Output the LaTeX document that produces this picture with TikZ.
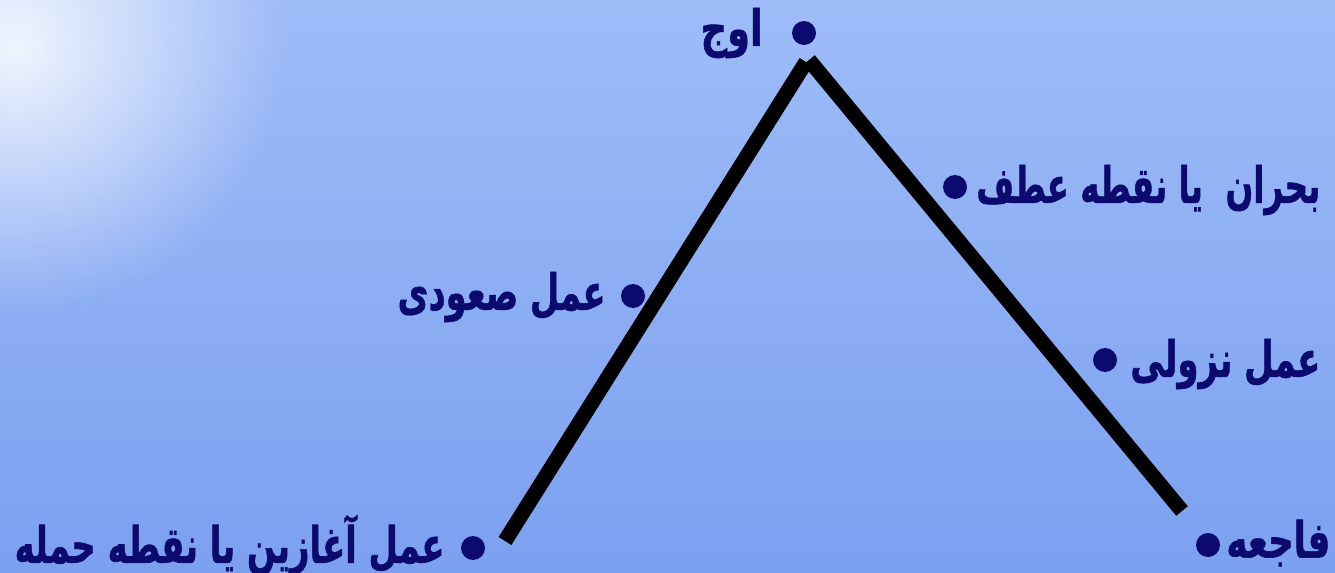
\documentclass[tikz,border=0pt]{standalone}
\usepackage{fontspec}
\usetikzlibrary{fadings}
\TeXXeTstate=1
\newfontfamily\fa[Script=Arabic,FakeBold=1.3]{DejaVu Sans Bold}
\definecolor{bgtop}{RGB}{158,188,248}
\definecolor{bgbot}{RGB}{124,160,240}
\definecolor{navy}{RGB}{12,10,110}
\tikzfading[name=glow, inner color=transparent!0, outer color=transparent!100]
\newsavebox\labbox
\newcommand\fitw[2]{\sbox\labbox{#2}\resizebox{#1}{\ht\labbox}{\usebox\labbox}}
\tikzset{
  stroke/.style={line width=7.5pt, black, line cap=butt},
  dot/.style={circle, fill=navy, inner sep=0pt, minimum size=12pt},
  lbl/.style={text=navy, font=\fa\fontsize{25}{29}\selectfont, inner sep=0pt},
}
\begin{document}
\begin{tikzpicture}[x=0.5pt,y=-0.5pt]
\useasboundingbox (0,0) rectangle (1335,573);
\shade[top color=bgtop, bottom color=bgbot] (0,0) rectangle (1335,573);
\begin{scope}
\clip (0,0) rectangle (1335,573);
\fill[white, path fading=glow, opacity=0.85] (15,45) circle (270);
\end{scope}
% path coordinates
\coordinate (start) at (505,541);
\coordinate (apexL) at (806,62);
\coordinate (apexR) at (809,60);
\coordinate (finish) at (1182,511);
\draw[stroke] (start) -- (apexL);
\draw[stroke] (apexR) -- (finish);
% bullets
\node[dot] (d1) at (473,548) {};
\node[dot] (d2) at (804,33) {};
\node[dot] (d3) at (955,187) {};
\node[dot] (d4) at (633,296) {};
\node[dot] (d5) at (1105,360) {};
\node[dot] (d6) at (1208,545) {};
% labels
\node[lbl, anchor=east] (t1) at (445,545) {\fitw{215pt}{\beginR عمل آغازین یا نقطه حمله\endR}};
\node[lbl, anchor=east] (t2) at (763,33) {\fitw{31pt}{\beginR اوج\endR}};
\node[lbl, anchor=west] (t3) at (976,190) {\fitw{172pt}{\beginR بحران\ \ یا نقطه عطف\endR}};
\node[lbl, anchor=east] (t4) at (606,297) {\fitw{104pt}{\beginR عمل صعودی\endR}};
\node[lbl, anchor=west] (t5) at (1130,364) {\fitw{95pt}{\beginR عمل نزولی\endR}};
\node[lbl, anchor=west] (t6) at (1226,543) {\fitw{52pt}{\beginR فاجعه\endR}};
\end{tikzpicture}
\end{document}
